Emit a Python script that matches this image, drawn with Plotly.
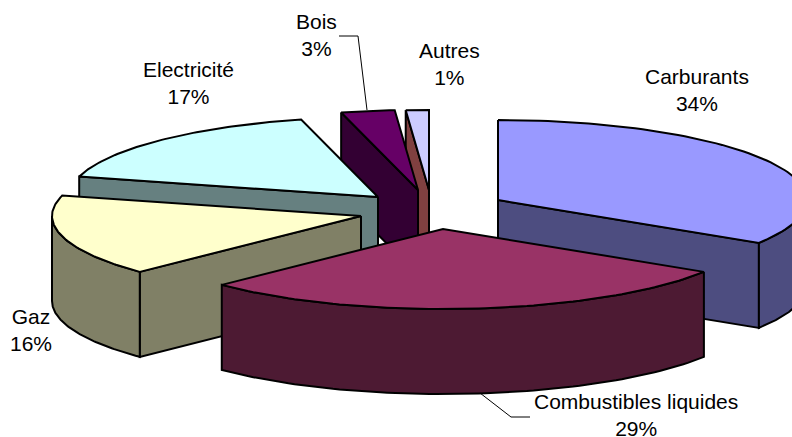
import numpy as np
import plotly.graph_objects as go

categories = ["Carburants", "Combustibles liquides", "Gaz", "Electricité", "Bois", "Autres"]
values = [34, 28.7, 16.4, 16.9, 2.8, 1.2]

top_colors = ["#9999FF", "#993366", "#FFFFCC", "#CCFFFF", "#660066", "#CCCCFF"]
side_colors = ["#4D4D80", "#4D1A33", "#808066", "#668080", "#330033", "#804040"]

# exploded slice tips, in pixels of the 792x437 page
tip_x = [498, 443, 361, 378, 418, 429]
tip_y = [200, 229, 216, 197, 190, 190]
draw_order = [5, 4, 3, 2, 0, 1]

label_x = [697, 636, 31, 188, 316, 449]
label_y = [90, 414.5, 329.5, 82.5, 34.5, 63.5]

RX, RY, DEPTH = 309, 80, 85
LINE = dict(color="black", width=2)

fig = go.Figure()


def add_poly(px, py, color):
    fig.add_trace(go.Scatter(
        x=np.append(px, px[0]), y=np.append(py, py[0]),
        mode="lines", fill="toself", fillcolor=color,
        line=LINE, hoverinfo="skip", showlegend=False
    ))


def arc(cx, cy, a0, a1):
    t = np.radians(np.linspace(a0, a1, 80))
    return cx + RX * np.sin(t), cy - RY * np.cos(t)


def wall(cx, cy, a, color):
    ex = cx + RX * np.sin(np.radians(a))
    ey = cy - RY * np.cos(np.radians(a))
    add_poly(np.array([cx, ex, ex, cx]), np.array([cy, ey, ey + DEPTH, cy + DEPTH]), color)


ends = np.cumsum(values) / np.sum(values) * 360
starts = np.append(0, ends[:-1])

for i in draw_order:
    cx, cy, a0, a1 = tip_x[i], tip_y[i], starts[i], ends[i]
    # side walls that face the viewer
    if a0 > 180:
        wall(cx, cy, a0, side_colors[i])
    if a1 < 180:
        wall(cx, cy, a1, side_colors[i])
    # rim, only the front half of the ellipse
    f0, f1 = max(a0, 90), min(a1, 270)
    if f0 < f1:
        ax, ay = arc(cx, cy, f0, f1)
        add_poly(np.concatenate([ax, ax[::-1]]),
                 np.concatenate([ay, ay[::-1] + DEPTH]), side_colors[i])
    # top face
    ax, ay = arc(cx, cy, a0, a1)
    add_poly(np.append(ax, cx), np.append(ay, cy), top_colors[i])

# leader lines
fig.add_trace(go.Scatter(x=[339, 358, 367], y=[36, 36, 110], mode="lines",
                         line=dict(color="black", width=1), hoverinfo="skip", showlegend=False))
fig.add_trace(go.Scatter(x=[480, 511, 530], y=[393, 417, 417], mode="lines",
                         line=dict(color="black", width=1), hoverinfo="skip", showlegend=False))

for i, name in enumerate(categories):
    fig.add_annotation(x=label_x[i], y=label_y[i], text=f"{name}<br>{values[i]:.0f}%",
                       showarrow=False, align="center",
                       font=dict(family="Liberation Sans", size=21, color="black"))

fig.update_layout(
    width=792, height=437,
    margin=dict(l=0, r=0, t=0, b=0),
    paper_bgcolor="white", plot_bgcolor="white",
    showlegend=False
)
fig.update_xaxes(range=[0, 792], visible=False)
fig.update_yaxes(range=[437, 0], visible=False)

fig.write_html("out.html", config=dict(displayModeBar=False),
               post_script="document.body.style.margin='0';")
